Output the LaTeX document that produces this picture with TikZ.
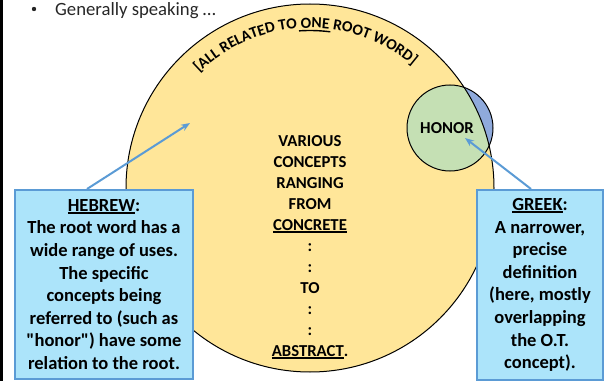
\documentclass[tikz,border=0pt]{standalone}
\usepackage{fontspec}
\setmainfont{Carlito}
\usetikzlibrary{decorations.text,arrows.meta}
\definecolor{gold}{RGB}{255,230,153}
\definecolor{greenc}{RGB}{197,224,180}
\definecolor{bluec}{RGB}{143,170,220}
\definecolor{boxfill}{RGB}{172,228,250}
\definecolor{boxline}{RGB}{91,155,213}
\definecolor{textgray}{RGB}{38,38,38}
\newcommand\myul[1]{\setbox0=\hbox{#1}\rlap{\rule[-2.4pt]{\wd0}{1.5pt}}\box0}
\newcommand\arcfont{\bfseries\fontsize{15.5}{18}\selectfont}
\tikzset{
  outline/.style={draw=black, line width=1pt},
  infobox/.style={draw=boxline, line width=2pt, fill=boxfill, inner sep=0pt, align=center,
    font=\bfseries\fontsize{18.5}{22.6}\selectfont},
  midtext/.style={align=center, inner sep=0pt, font=\bfseries\fontsize{16.7}{21}\selectfont},
  pointer/.style={draw=boxline, line width=2pt, -{Stealth[length=9pt,width=7pt]}}
}
\begin{document}
\begin{tikzpicture}[x=1pt,y=1pt]
\useasboundingbox (0,0) rectangle (608,381);
\fill[black] (0,0) rectangle (2.5,381);
% header
\fill[textgray] (34,372) circle[radius=2.2pt];
\node[anchor=base west, inner sep=0pt, text=textgray, font=\fontsize{18.7}{22}\selectfont] (head) at (55,365) {Generally speaking …};
% circles
\coordinate (bc) at (310,193);
\coordinate (gc) at (450,253);
\fill[gold] (bc) circle[radius=184pt];
\fill[bluec] (gc) circle[radius=43pt];
\begin{scope}
\clip (bc) circle[radius=184pt];
\fill[greenc] (gc) circle[radius=43pt];
\end{scope}
\draw[outline] (gc) circle[radius=43pt];
\draw[outline] (bc) circle[radius=184pt];
% arc text
\path[decorate, decoration={text along path, text align=center,
  text={|\arcfont|[ALL RELATED TO ONE ROOT WORD]}}]
  (bc) ++(138:160pt) arc[start angle=138, end angle=46, radius=160pt];
\draw[line width=1.4pt] (bc) ++(94:157.5pt) arc[start angle=94, end angle=82.6, radius=157.5pt];
% texts
\node[midtext] (honor) at (447,253) {HONOR};
\node[midtext] (mid) at (310,134) {VARIOUS\\CONCEPTS\\RANGING\\FROM\\\myul{CONCRETE}\\:\\:\\TO\\:\\:\\\myul{ABSTRACT}.};
% boxes
\node[infobox, minimum width=178pt, minimum height=189pt] (hebrew) at (104,96.5)
  {\myul{HEBREW}:\\The root word has a\\wide range of uses.\\The specific\\concepts being\\referred to (such as\\\textquotedbl honor\textquotedbl) have some\\relation to the root.};
\node[infobox, minimum width=126pt, minimum height=190pt] (greek) at (540,96)
  {\myul{GREEK}:\\A narrower,\\precise\\definition\\(here, mostly\\overlapping\\the O.T.\\concept).};
% arrows
\coordinate (htip) at (190,258);
\coordinate (gtip) at (465,243);
\draw[pointer] ([xshift=73pt]hebrew.north west) -- (htip);
\draw[pointer] ([xshift=55pt]greek.north west) -- (gtip);
\end{tikzpicture}
\end{document}
